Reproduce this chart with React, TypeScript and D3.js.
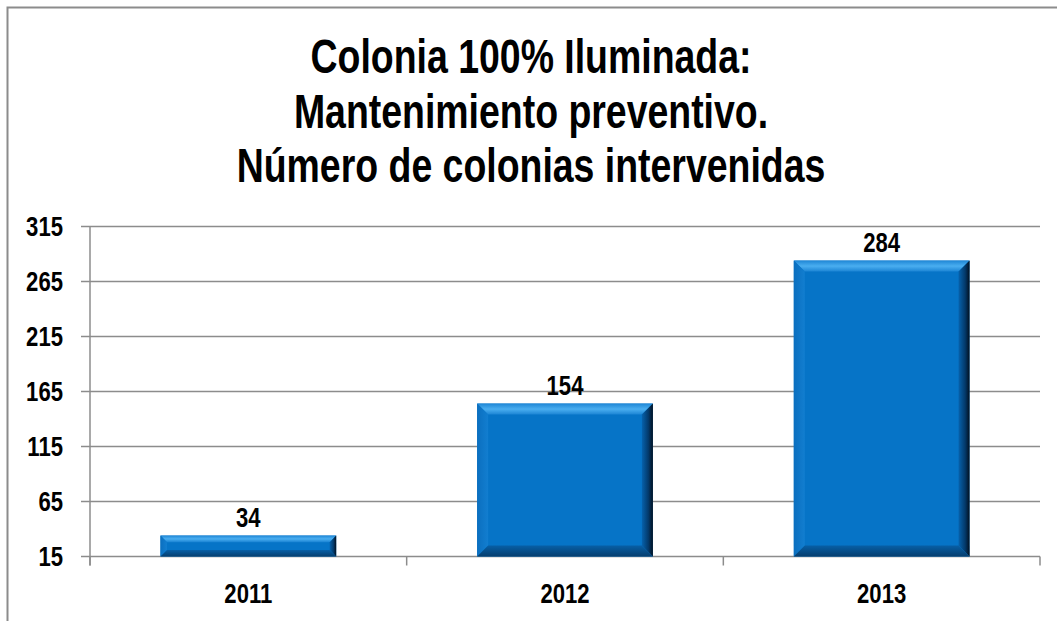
import React, { useEffect, useRef } from 'react';
import * as d3 from 'd3';

const years = ['2011', '2012', '2013'];
const colonias = [34, 154, 284];
const yTicks = [15, 65, 115, 165, 215, 265, 315];
const titleLines = ['Colonia 100% Iluminada:', 'Mantenimiento preventivo.', 'Número de colonias intervenidas'];

const FONT = '"Liberation Sans", Arial, sans-serif';

const App = () => {
  const ref = useRef<SVGSVGElement | null>(null);

  useEffect(() => {
    const svg = d3.select(ref.current);
    svg.selectAll('*').remove();

    const W = 1057;
    const H = 621;
    const margin = { top: 226.5, right: 17, bottom: 64.5, left: 90 };

    // narrow bold text (no Arial Narrow here, so squeeze horizontally)
    const narrowText = (x, y, txt, size, anchor, sx = 0.82) =>
      svg.append('g')
        .attr('transform', `translate(${x},${y}) scale(${sx},1)`)
        .append('text')
        .attr('text-anchor', anchor)
        .attr('font-family', FONT)
        .attr('font-weight', 'bold')
        .attr('font-size', size)
        .attr('fill', '#000')
        .text(txt);

    // outer frame (cut at right/bottom like the original)
    svg.append('rect')
      .attr('x', 7.5).attr('y', 7.5)
      .attr('width', W + 20).attr('height', H + 20)
      .attr('fill', '#fff')
      .attr('stroke', '#8c8c8c')
      .attr('stroke-width', 2);

    const defs = svg.append('defs');
    const grad = (id, x2, y2, stops) => {
      const g = defs.append('linearGradient').attr('id', id)
        .attr('x1', 0).attr('y1', 0).attr('x2', x2).attr('y2', y2);
      stops.forEach(([o, c]) => g.append('stop').attr('offset', o).attr('stop-color', c));
    };
    grad('bvTop', 0, 1, [[0, '#1f87d6'], [0.5, '#4aaef0'], [1, '#1b84d4']]);
    grad('bvLeft', 1, 0, [[0, '#0b6fbf'], [1, '#127ed0']]);
    grad('bvRight', 1, 0, [[0, '#0662ad'], [0.6, '#03396a'], [1, '#02101f']]);
    grad('bvBottom', 0, 1, [[0, '#075fa6'], [1, '#063e6e']]);

    const x = d3.scaleBand()
      .domain(years)
      .range([margin.left, W - margin.right])
      .paddingInner(0.445)
      .paddingOuter(0.2225);

    const y = d3.scaleLinear()
      .domain([15, 315])
      .range([H - margin.bottom, margin.top]);

    // gridlines + ticks
    yTicks.forEach((t) => {
      svg.append('line')
        .attr('x1', margin.left - 9).attr('x2', W - margin.right)
        .attr('y1', y(t)).attr('y2', y(t))
        .attr('stroke', '#8c8c8c').attr('stroke-width', 1.5);
      narrowText(63, y(t) + 9.5, t, 27, 'end');
    });

    // y axis line
    svg.append('line')
      .attr('x1', margin.left).attr('x2', margin.left)
      .attr('y1', y(315)).attr('y2', y(15) + 9)
      .attr('stroke', '#8c8c8c').attr('stroke-width', 1.5);

    // x ticks between categories
    const step = x.step();
    [0, 1, 2, 3].forEach((i) => {
      const xx = margin.left + i * step;
      svg.append('line')
        .attr('x1', xx).attr('x2', xx)
        .attr('y1', y(15)).attr('y2', y(15) + 9)
        .attr('stroke', '#8c8c8c').attr('stroke-width', 1.5);
    });

    // bars with bevel
    years.forEach((yr, i) => {
      const v = colonias[i];
      const x0 = x(yr);
      const bw = x.bandwidth();
      const y0 = y(v);
      const y1 = y(15);
      const h = y1 - y0;
      const b = Math.min(11, h / 3.2);
      const x1 = x0 + bw;
      const pts = (arr) => arr.map((p) => p.join(',')).join(' ');
      const g = svg.append('g');
      g.append('rect').attr('x', x0).attr('y', y0).attr('width', bw).attr('height', h).attr('fill', '#0674c7');
      g.append('polygon')
        .attr('points', pts([[x0, y0], [x1, y0], [x1 - b, y0 + b], [x0 + b, y0 + b]]))
        .attr('fill', 'url(#bvTop)');
      g.append('polygon')
        .attr('points', pts([[x0, y0], [x0 + b, y0 + b], [x0 + b, y1 - b], [x0, y1]]))
        .attr('fill', 'url(#bvLeft)');
      g.append('polygon')
        .attr('points', pts([[x1, y0], [x1, y1], [x1 - b, y1 - b], [x1 - b, y0 + b]]))
        .attr('fill', 'url(#bvRight)');
      g.append('polygon')
        .attr('points', pts([[x0, y1], [x0 + b, y1 - b], [x1 - b, y1 - b], [x1, y1]]))
        .attr('fill', 'url(#bvBottom)');

      // value label
      narrowText(x0 + bw / 2, y0 - 9, v, 27, 'middle');
      // category label
      narrowText(x0 + bw / 2, 603, yr, 27, 'middle');
    });

    // title
    titleLines.forEach((t, i) => {
      narrowText(531, 73 + i * 54.5, t, 48, 'middle', 0.78);
    });
  }, []);

  return (
    <svg
      ref={ref}
      width={1057}
      height={621}
      style={{ position: 'absolute', left: 0, top: 0, background: '#fff' }}
    />
  );
};

export default App;
